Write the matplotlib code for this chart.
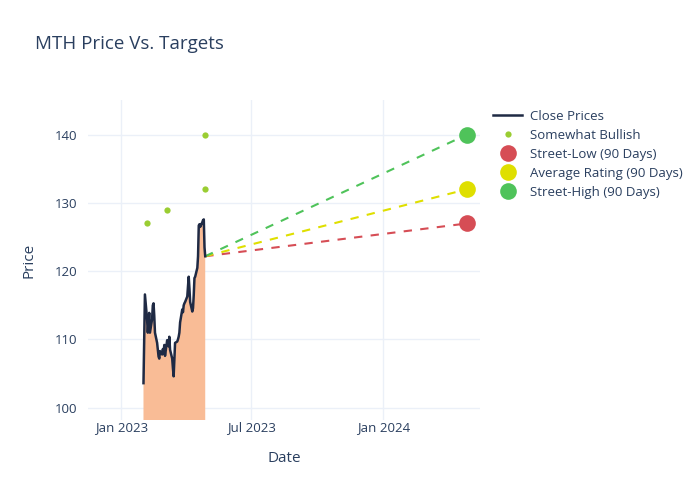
import matplotlib
matplotlib.use("Agg")
import matplotlib.pyplot as plt
import matplotlib.dates as mdates
import pandas as pd

plt.rcParams['font.family'] = ['Open Sans', 'DejaVu Sans']

# close prices, trading days Feb 1 - Apr 28 2023
close_dates = pd.bdate_range('2023-02-01', '2023-04-28')
close_prices = [
    103.6, 110.0, 116.6, 113.0, 111.0, 112.5, 113.9, 111.0, 113.0, 115.0,
    115.3, 113.5, 111.0, 109.5, 108.5, 107.5, 107.2, 108.3, 107.8, 108.6,
    108.0, 109.2, 107.6, 109.9, 109.4, 109.0, 110.4, 108.5, 107.2, 105.8,
    104.6, 107.0, 109.5, 109.7, 110.0, 110.4, 111.0, 112.5, 114.4, 114.0,
    115.0, 115.3, 115.5, 116.3, 117.8, 119.2, 117.5, 115.5, 114.1, 114.6,
    116.5, 119.0, 119.2, 120.5, 122.2, 126.7, 126.9, 126.5, 127.2, 127.5,
    127.6, 123.5, 122.2,
]

# analyst ratings
rating_dates = pd.to_datetime(['2023-02-06', '2023-03-06', '2023-04-27', '2023-04-27'])
rating_prices = [127, 129, 132, 140]

# 90 day targets
target_date = pd.Timestamp('2024-04-26')
targets = {
    'Street-Low (90 Days)': (127, '#d64d55'),
    'Average Rating (90 Days)': (132, '#dfdf00'),
    'Street-High (90 Days)': (140, '#4fc35a'),
}

fig = plt.figure(figsize=(7, 5), dpi=100)
ax = fig.add_axes([0.126, 0.16, 0.56, 0.64])

text_color = '#2a3f5f'
grid_color = '#ebf0f8'

ax.fill_between(close_dates, close_prices, 0, color='#f9bc96', lw=0, zorder=1)
ax.plot(close_dates, close_prices, color='#1f2a44', lw=1.8, label='Close Prices', zorder=3)
ax.plot(rating_dates, rating_prices, 'o', color='#9acd32', ms=4.5, mec='none',
        label='Somewhat Bullish', zorder=4)

last_date = close_dates[-1]
last_price = close_prices[-1]
for name, (value, color) in targets.items():
    ax.plot([last_date, target_date], [last_price, value], '--', color=color,
            lw=1.5, dashes=(4, 4), zorder=2)
    ax.plot([target_date], [value], 'o', color=color, ms=12, mec='none',
            label=name, zorder=5)

ax.set_xlim(pd.Timestamp('2022-11-16'), pd.Timestamp('2024-05-15'))
ax.set_ylim(98.2, 145.1)
ax.set_yticks([100, 110, 120, 130, 140])
ax.xaxis.set_major_locator(mdates.MonthLocator(bymonth=[1, 7]))
ax.xaxis.set_major_formatter(mdates.DateFormatter('%b %Y'))

ax.grid(True, color=grid_color, lw=1)
ax.set_axisbelow(True)
for s in ax.spines.values():
    s.set_visible(False)
ax.tick_params(length=0, colors=text_color, labelsize=9.5)
ax.tick_params(axis='x', pad=1)
ax.tick_params(axis='y', pad=8)

ax.set_xlabel('Date', color=text_color, fontsize=11, labelpad=12)
ax.set_ylabel('Price', color=text_color, fontsize=11, labelpad=13)
fig.text(0.05, 0.912, 'MTH Price Vs. Targets', color=text_color, fontsize=13.5,
         va='center')

leg = ax.legend(loc='upper left', bbox_to_anchor=(1.02, 0.985), frameon=False,
                fontsize=9.5, labelcolor=text_color, handlelength=2.2,
                borderaxespad=0, labelspacing=0.45, handletextpad=0.6)

plt.savefig('out.png', dpi=100)
